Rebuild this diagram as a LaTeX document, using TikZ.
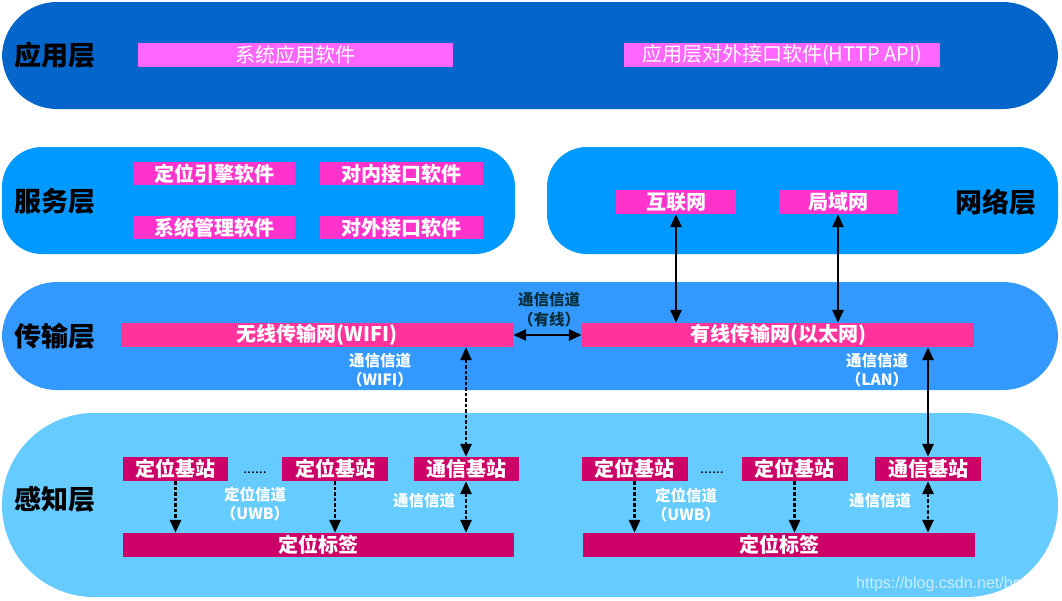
\documentclass[tikz,border=0pt]{standalone}
\usepackage{fontspec}
\setmainfont{Noto Sans CJK SC}
\newfontfamily\wmfont{Liberation Sans}
\usetikzlibrary{arrows.meta}
\definecolor{appband}{HTML}{0466CB}
\definecolor{svcband}{HTML}{0099FF}
\definecolor{trnband}{HTML}{3399FF}
\definecolor{perband}{HTML}{66CCFF}
\definecolor{apppink}{HTML}{FF66FF}
\definecolor{svcpink}{HTML}{FF33CC}
\definecolor{trnpink}{HTML}{FF3399}
\definecolor{perpink}{HTML}{CC0066}
\definecolor{darklbl}{HTML}{0A2E3C}
\begin{document}
\begin{tikzpicture}[x=1pt,y=-1pt,
  layerlbl/.style={font=\fontsize{27}{27}\selectfont\bfseries, text=black, inner sep=0},
  pbox/.style={fill=#1, text=white, inner sep=0, minimum height=24pt,
    font=\fontsize{20}{20}\selectfont\bfseries},
  abox/.style={fill=apppink, text=white, inner sep=0, minimum height=24pt,
    font=\fontsize{20}{20}\selectfont},
  chl/.style={text=white, inner sep=0, font=\fontsize{15.5}{15.5}\selectfont\bfseries},
  both/.style={{Triangle[length=13pt,width=11pt]}-{Triangle[length=13pt,width=11pt]}, line width=2.8pt, black},
  one/.style={-{Triangle[length=13pt,width=11pt]}, line width=2.8pt, black},
  dots/.style={dash pattern=on 3.5pt off 2pt}
]
\useasboundingbox (0,0) rectangle (1062,600);

% bands
\fill[appband, rounded corners=55pt] (2,2) rectangle (1058,109);
\fill[svcband, rounded corners=40pt] (2,147) rectangle (515,254);
\fill[svcband, rounded corners=40pt] (547,147) rectangle (1058,254);
\fill[trnband, rounded corners=55pt] (2,282) rectangle (1058,390);
\fill[perband, rounded corners=92pt] (2,413) rectangle (1058,597);

% layer labels
\node[layerlbl] (lapp) at (55,55) {应用层};
\node[layerlbl] (lsvc) at (55,201) {服务层};
\node[layerlbl] (lnet) at (996,202) {网络层};
\node[layerlbl] (ltrn) at (55,336) {传输层};
\node[layerlbl] (lper) at (55,499) {感知层};

% application layer
\node[abox, minimum width=315pt] (sysapp) at (295.5,55) {系统应用软件};
\node[abox, minimum width=316pt] (httpapi) at (782,55) {应用层对外接口软件(HTTP API)};

% service layer
\node[pbox=svcpink, minimum width=162pt, minimum height=23pt] (engine) at (214,173.5) {定位引擎软件};
\node[pbox=svcpink, minimum width=163pt, minimum height=23pt] (inner) at (401.5,173.5) {对内接口软件};
\node[pbox=svcpink, minimum width=162pt, minimum height=23pt] (sysmgr) at (214,227.5) {系统管理软件};
\node[pbox=svcpink, minimum width=163pt, minimum height=23pt] (outer) at (401.5,227.5) {对外接口软件};

% network layer
\node[pbox=svcpink, minimum width=120pt] (inet) at (676,202) {互联网};
\node[pbox=svcpink, minimum width=119pt] (lan) at (838,202) {局域网};

% transmission layer
\node[pbox=trnpink, minimum width=392pt] (wifi) at (317,335) {无线传输网(WIFI)};
\node[pbox=trnpink, minimum width=392pt] (wired) at (778,335) {有线传输网(以太网)};

% perception layer left
\node[pbox=perpink, minimum width=105pt] (bsA) at (175.5,469) {定位基站};
\node[pbox=perpink, minimum width=106pt] (bsB) at (335,469) {定位基站};
\node[pbox=perpink, minimum width=105pt] (cbL) at (466,469) {通信基站};
\node[pbox=perpink, minimum width=391pt] (tagL) at (318.5,545) {定位标签};
\node[anchor=base, inner sep=0, font=\fontsize{14}{14}\selectfont] (dotsL) at (255,473) {......};

% perception layer right
\node[pbox=perpink, minimum width=106pt] (bsC) at (634.5,469) {定位基站};
\node[pbox=perpink, minimum width=106pt] (bsD) at (794.5,469) {定位基站};
\node[pbox=perpink, minimum width=106pt] (cbR) at (928,469) {通信基站};
\node[pbox=perpink, minimum width=392pt] (tagR) at (779,545) {定位标签};
\node[anchor=base, inner sep=0, font=\fontsize{14}{14}\selectfont] (dotsR) at (712,473) {......};

% channel labels
\node[chl, text=darklbl] (cwired1) at (549,300) {通信信道};
\node[chl, text=darklbl] (cwired2) at (549,320) {（有线）};
\node[chl] (cwifi1) at (380,361) {通信信道};
\node[chl] (cwifi2) at (380,380) {（WIFI）};
\node[chl] (clan1) at (877,361) {通信信道};
\node[chl] (clan2) at (877,380) {（LAN）};
\node[chl] (uwbL1) at (255,495) {定位信道};
\node[chl] (uwbL2) at (255,514) {（UWB）};
\node[chl] (ccL) at (424,501) {通信信道};
\node[chl] (uwbR1) at (686,496) {定位信道};
\node[chl] (uwbR2) at (686,515) {（UWB）};
\node[chl] (ccR) at (880,501) {通信信道};

% connectors
\draw[both] (wifi.east) -- (wired.west);
\draw[both] (inet.south) -- (inet.south |- wired.north);
\draw[both] (lan.south) -- (lan.south |- wired.north);
\draw[both, dots] (cbL.north |- wifi.south) -- (cbL.north);
\draw[both] (cbR.north |- wired.south) -- (cbR.north);
\draw[one, dots] (bsA.south) -- (bsA.south |- tagL.north);
\draw[one, dots] (bsB.south) -- (bsB.south |- tagL.north);
\draw[both, dots] (cbL.south) -- (cbL.south |- tagL.north);
\draw[one, dots] (bsC.south) -- (bsC.south |- tagR.north);
\draw[one, dots] (bsD.south) -- (bsD.south |- tagR.north);
\draw[both, dots] (cbR.south) -- (cbR.south |- tagR.north);

% watermark
\node[anchor=west, inner sep=0, text=white, opacity=0.65, font=\wmfont\fontsize{16}{16}\selectfont] (wm) at (856,584) {https://blog.csdn.net/bs};
\end{tikzpicture}
\end{document}
